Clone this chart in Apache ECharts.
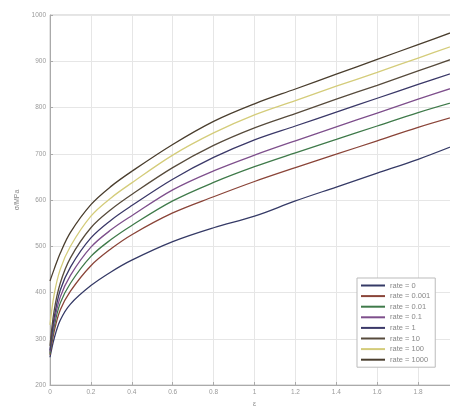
<!DOCTYPE html>
<html>
<head>
<meta charset="utf-8">
<script src="https://cdn.jsdelivr.net/npm/echarts@6/dist/echarts.min.js"></script>
<style>
  html, body { margin: 0; padding: 0; background: #fff; }
  #chart { width: 450px; height: 411px; }
</style>
</head>
<body>
<div id="chart"></div>
<script>
// Strain values (ε) at which stress is sampled
const strain = [0, 0.02, 0.05, 0.1, 0.2, 0.3, 0.4, 0.6, 0.8, 1.0, 1.2, 1.4, 1.6, 1.8, 2.0];

// Flow stress σ (MPa) for each strain rate
const rate0     = [260, 300, 340, 375, 415, 445, 470, 510, 540, 565, 598, 628, 658, 688, 722];
const rate0001  = [265, 315, 362, 403, 458, 495, 525, 572, 607, 640, 670, 699, 728, 757, 783];
const rate001   = [268, 325, 377, 420, 478, 515, 545, 598, 638, 672, 702, 731, 760, 789, 815];
const rate01    = [272, 335, 390, 437, 498, 536, 566, 622, 663, 697, 728, 758, 788, 818, 847];
const rate1     = [275, 345, 405, 455, 518, 557, 588, 645, 692, 730, 760, 790, 820, 850, 879];
const rate10    = [285, 360, 420, 475, 540, 580, 612, 670, 718, 756, 787, 818, 848, 879, 910];
const rate100   = [330, 395, 450, 500, 565, 605, 637, 697, 745, 784, 815, 846, 876, 907, 938];
const rate1000  = [425, 450, 485, 530, 590, 630, 662, 720, 770, 808, 840, 872, 904, 936, 968];

const seriesNames = ['rate = 0', 'rate = 0.001', 'rate = 0.01', 'rate = 0.1',
                     'rate = 1', 'rate = 10', 'rate = 100', 'rate = 1000'];
const seriesData = [rate0, rate0001, rate001, rate01, rate1, rate10, rate100, rate1000];
const seriesColors = ['#353a66', '#8a4438', '#3f7a4a', '#7e4f8c',
                      '#3a3868', '#574b3c', '#d4cc7a', '#4a3e2e'];

// y-axis tick labels
const yTicks = [200, 300, 400, 500, 600, 700, 800, 900, 1000];

const chart = echarts.init(document.getElementById('chart'), null, { renderer: 'canvas' });

const series = seriesNames.map((name, i) => ({
  name: name,
  type: 'line',
  smooth: 0.35,
  showSymbol: false,
  symbol: 'none',
  data: strain.map((e, j) => [e, seriesData[i][j]]),
  lineStyle: { color: seriesColors[i], width: 1.3 },
  itemStyle: { color: seriesColors[i] },
  emphasis: { disabled: true }
}));

chart.setOption({
  animation: false,
  backgroundColor: '#ffffff',
  textStyle: { fontFamily: 'Liberation Sans, Arial, sans-serif' },
  grid: {
    left: 50, top: 15, width: 409, height: 370,
    outerBoundsMode: 'none',
    containLabel: false,
    show: true, borderColor: '#c8c8c8', borderWidth: 1
  },
  xAxis: {
    type: 'value', min: 0, max: 2, interval: 0.2,
    name: 'ε', nameLocation: 'middle', nameGap: 14,
    nameTextStyle: { color: '#888', fontSize: 7 },
    axisLine: { show: true, lineStyle: { color: '#aaa' } },
    axisTick: { show: true, inside: true, length: 3, lineStyle: { color: '#aaa' } },
    axisLabel: { color: '#999', fontSize: 6.5, margin: 4 },
    splitLine: { show: true, lineStyle: { color: '#e6e6e6', width: 1 } }
  },
  yAxis: {
    type: 'value', min: yTicks[0], max: yTicks[yTicks.length - 1], interval: 100,
    name: 'σ/MPa', nameLocation: 'middle', nameGap: 28, nameRotate: 90,
    nameTextStyle: { color: '#888', fontSize: 7 },
    axisLine: { show: true, lineStyle: { color: '#aaa' } },
    axisTick: { show: true, inside: true, length: 3, lineStyle: { color: '#aaa' } },
    axisLabel: { color: '#999', fontSize: 6.5, margin: 4, formatter: v => String(v) },
    splitLine: { show: true, lineStyle: { color: '#e6e6e6', width: 1 } }
  },
  legend: {
    orient: 'vertical',
    left: 357, top: 278,
    backgroundColor: '#ffffff',
    borderColor: '#bbb', borderWidth: 1,
    padding: [3, 5, 3, 4],
    itemWidth: 24, itemHeight: 2,
    itemGap: 1.6,
    icon: 'rect',
    textStyle: { color: '#888', fontSize: 7.5, lineHeight: 9 },
    data: seriesNames
  },
  series: series
});
</script>
</body>
</html>
